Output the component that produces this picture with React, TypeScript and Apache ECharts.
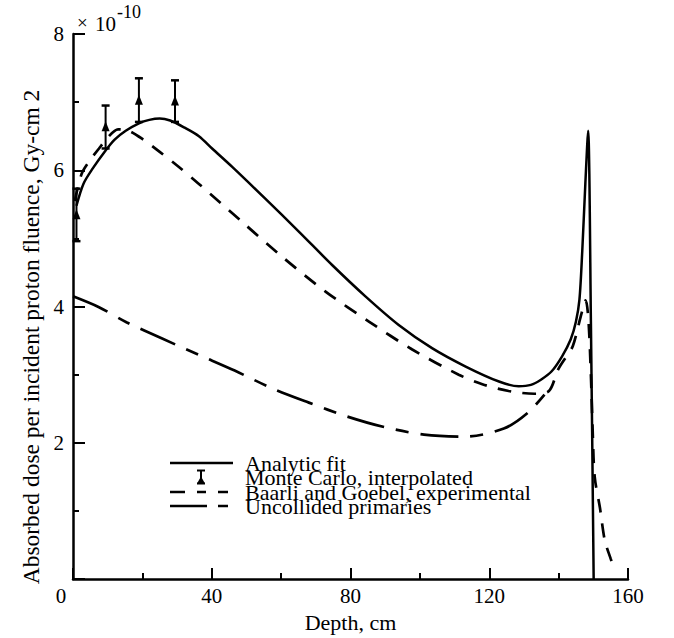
import React, { useEffect, useRef } from "react";
import * as echarts from "echarts";

// ---- Data ----
// Depth in cm, dose in units of 1e-10 Gy-cm2
const analyticFit: [number, number][] = [
  [1, 5.48], [3, 5.8], [5.6, 6.02], [9.4, 6.29], [12, 6.45], [15.2, 6.58],
  [19, 6.69], [22, 6.74], [25, 6.76], [28, 6.73], [32, 6.63], [36.3, 6.5],
  [40.1, 6.32], [45.9, 6.05], [55.5, 5.58], [65.1, 5.1], [74.7, 4.61],
  [84.3, 4.15], [93.9, 3.73], [103.5, 3.39], [113.2, 3.12], [122.8, 2.9],
  [128.5, 2.83], [132, 2.85], [135, 2.93], [138, 3.05], [141, 3.27],
  [143.5, 3.52], [145, 3.78], [146, 4.1], [146.8, 4.8], [147.7, 5.8],
  [148.5, 6.58], [149.3, 3.8], [150.1, 0],
];

const baarliGoebel: [number, number][] = [
  [0.5, 5.55], [2.5, 5.95], [4.5, 6.12], [7.5, 6.32], [10, 6.48], [13, 6.6],
  [16, 6.58], [20, 6.46], [25, 6.27], [30, 6.07], [36.3, 5.8], [48.8, 5.24],
  [60.3, 4.73], [72.8, 4.22], [85.3, 3.78], [97.8, 3.37], [111.2, 3.0],
  [118, 2.86], [125.6, 2.76], [133, 2.72], [137.2, 2.76], [139.8, 3.07],
  [142, 3.25], [144.1, 3.42], [146.4, 3.86], [147.8, 4.09], [148.6, 3.8],
  [149.3, 3.0], [149.8, 2.2], [150.4, 1.5], [151.9, 1.05], [153.3, 0.57],
  [155, 0.3], [156, 0.15],
];

const uncollided: [number, number][] = [
  [0, 4.15], [7.5, 3.99], [15.4, 3.77], [25.7, 3.53], [36.3, 3.29],
  [46.6, 3.06], [57.4, 2.8], [68, 2.59], [78.8, 2.39], [89.8, 2.23],
  [101.2, 2.12], [112.9, 2.09], [124.2, 2.21], [131.1, 2.44], [136.6, 2.75],
];

const mcDepth = [1, 9.4, 19, 29.4];
const mcDose = [5.34, 6.63, 7.02, 7.01];
const mcLow = [4.96, 6.32, 6.71, 6.71];
const mcHigh = [5.73, 6.95, 7.35, 7.32];

const xTicks = { min: 0, max: 160, interval: 40 };
const yTicks = { min: 0, max: 8, interval: 2 };

const legendLabels = [
  "Analytic fit",
  "Monte Carlo, interpolated",
  "Baarli and Goebel, experimental",
  "Uncollided primaries",
];

const FONT = "'Liberation Serif', 'Times New Roman', serif";

export default function App() {
  const ref = useRef<HTMLDivElement>(null);

  useEffect(() => {
    document.body.style.margin = "0";
    if (!ref.current) return;
    const chart = echarts.init(ref.current, null, { renderer: "svg" });

    const mcData = mcDepth.map((x, i) => [x, mcDose[i], mcLow[i], mcHigh[i]]);

    const legendY = [463, 477.5, 492, 506];

    const legendTexts = legendLabels.map((t, i) => ({
      type: "text",
      x: 245,
      y: legendY[i],
      style: {
        text: t,
        font: `22px ${FONT}`,
        fill: "#000",
        verticalAlign: "middle",
        align: "left",
      },
    }));

    const option: any = {
      animation: false,
      backgroundColor: "#fff",
      grid: { left: 73, right: 46, top: 34, bottom: 55, containLabel: false },
      xAxis: {
        type: "value",
        min: xTicks.min,
        max: xTicks.max,
        interval: xTicks.interval,
        axisLine: { show: true, lineStyle: { color: "#000", width: 2.5 } },
        axisTick: { show: true, inside: true, length: 11, lineStyle: { color: "#000", width: 2 } },
        minorTick: { show: true, splitNumber: 2, length: 6, lineStyle: { color: "#000", width: 2 } },
        splitLine: { show: false },
        axisLabel: {
          color: "#000",
          fontFamily: FONT,
          fontSize: 21,
          margin: 6,
          formatter: (v: number) => (v === 0 ? "{o|0}" : String(v)),
          rich: { o: { fontFamily: FONT, fontSize: 21, color: "#000", padding: [0, 24, 0, 0] } },
        },
        name: "Depth, cm",
        nameLocation: "middle",
        nameGap: 29,
        nameTextStyle: { color: "#000", fontFamily: FONT, fontSize: 22 },
      },
      yAxis: {
        type: "value",
        min: yTicks.min,
        max: yTicks.max,
        interval: yTicks.interval,
        axisLine: { show: true, lineStyle: { color: "#000", width: 2.5 } },
        axisTick: { show: true, inside: true, length: 12, lineStyle: { color: "#000", width: 2 } },
        minorTick: { show: true, splitNumber: 2, length: 6, lineStyle: { color: "#000", width: 2 } },
        splitLine: { show: false },
        axisLabel: {
          color: "#000",
          fontFamily: FONT,
          fontSize: 21,
          margin: 9,
          formatter: (v: number) => (v === 0 ? "" : String(v)),
        },
      },
      series: [
        {
          name: "Analytic fit",
          type: "line",
          data: analyticFit,
          symbol: "none",
          smooth: 0.3,
          lineStyle: { color: "#000", width: 2.5 },
          z: 3,
        },
        {
          name: "Baarli and Goebel, experimental",
          type: "line",
          data: baarliGoebel,
          symbol: "none",
          smooth: 0.3,
          lineStyle: { color: "#000", width: 2.7, type: [14, 11] },
          z: 3,
        },
        {
          name: "Uncollided primaries",
          type: "line",
          data: uncollided,
          symbol: "none",
          smooth: 0.3,
          lineStyle: { color: "#000", width: 2.7, type: [38, 12, 13, 12] },
          z: 3,
        },
        {
          name: "Monte Carlo, interpolated",
          type: "custom",
          data: mcData,
          encode: { x: 0, y: [1, 2, 3] },
          z: 4,
          renderItem: (_params: any, api: any) => {
            const x = api.value(0);
            const p = api.coord([x, api.value(1)]);
            const pl = api.coord([x, api.value(2)]);
            const ph = api.coord([x, api.value(3)]);
            const cx = p[0];
            return {
              type: "group",
              children: [
                { type: "line", shape: { x1: cx, y1: pl[1], x2: cx, y2: ph[1] }, style: { stroke: "#000", lineWidth: 2 } },
                { type: "line", shape: { x1: cx - 4, y1: ph[1], x2: cx + 4, y2: ph[1] }, style: { stroke: "#000", lineWidth: 2.5 } },
                { type: "line", shape: { x1: cx - 4, y1: pl[1], x2: cx + 4, y2: pl[1] }, style: { stroke: "#000", lineWidth: 2.5 } },
                {
                  type: "polygon",
                  shape: { points: [[cx, p[1] - 6], [cx - 4, p[1] + 4], [cx + 4, p[1] + 4]] },
                  style: { fill: "#000" },
                },
              ],
            };
          },
        },
      ],
      graphic: [
        // multiplier label at top of y axis
        { type: "text", left: 77, top: 13, style: { text: "×", font: `19px ${FONT}`, fill: "#000" } },
        { type: "text", left: 95, top: 13, style: { text: "10", font: `21px ${FONT}`, fill: "#000" } },
        { type: "text", left: 117, top: 3, style: { text: "-10", font: `18px ${FONT}`, fill: "#000" } },
        // y axis title
        {
          type: "text",
          x: 31,
          y: 337,
          rotation: Math.PI / 2,
          style: {
            text: "Absorbed dose per incident proton fluence, Gy-cm 2",
            font: `23.5px ${FONT}`,
            fill: "#000",
            align: "center",
            verticalAlign: "middle",
          },
        },
        // legend keys
        { type: "line", shape: { x1: 170, y1: legendY[0], x2: 233, y2: legendY[0] }, style: { stroke: "#000", lineWidth: 2.4 } },
        { type: "line", shape: { x1: 201, y1: legendY[1] - 7, x2: 201, y2: legendY[1] + 6 }, style: { stroke: "#000", lineWidth: 2 } },
        { type: "line", shape: { x1: 197, y1: legendY[1] - 7, x2: 205, y2: legendY[1] - 7 }, style: { stroke: "#000", lineWidth: 2 } },
        { type: "line", shape: { x1: 197, y1: legendY[1] + 6, x2: 205, y2: legendY[1] + 6 }, style: { stroke: "#000", lineWidth: 2 } },
        {
          type: "polygon",
          shape: { points: [[201, legendY[1] - 1], [197, legendY[1] + 6], [205, legendY[1] + 6]] },
          style: { fill: "#000" },
        },
        { type: "line", shape: { x1: 170, y1: legendY[2], x2: 228, y2: legendY[2] }, style: { stroke: "#000", lineWidth: 2.4, lineDash: [15, 12, 9, 12] } },
        { type: "line", shape: { x1: 170, y1: legendY[3], x2: 228, y2: legendY[3] }, style: { stroke: "#000", lineWidth: 2.4, lineDash: [37, 11, 10, 11] } },
        ...legendTexts,
      ],
    };

    chart.setOption(option);
    return () => chart.dispose();
  }, []);

  return <div ref={ref} style={{ width: 674, height: 638 }} />;
}
